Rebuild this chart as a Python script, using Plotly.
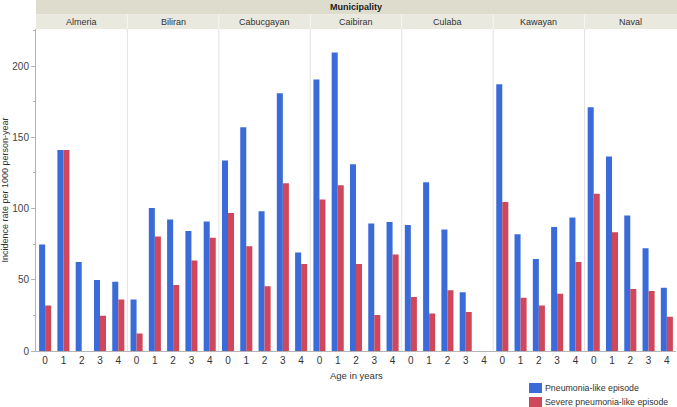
import plotly.graph_objects as go
from plotly.subplots import make_subplots

municipalities = ["Almeria", "Biliran", "Cabucgayan", "Caibiran", "Culaba", "Kawayan", "Naval"]
ages = ["0", "1", "2", "3", "4"]

pneumonia = {
    "Almeria":    [74.8, 141.0, 62.4, 49.8, 48.6],
    "Biliran":    [36.2, 100.3, 92.3, 84.2, 90.9],
    "Cabucgayan": [133.7, 157.1, 98.0, 180.9, 69.2],
    "Caibiran":   [190.5, 209.5, 131.1, 89.5, 90.5],
    "Culaba":     [88.4, 118.5, 85.3, 41.2, None],
    "Kawayan":    [187.2, 82.0, 64.5, 87.0, 93.7],
    "Naval":      [171.1, 136.5, 95.1, 72.2, 44.4],
}
severe = {
    "Almeria":    [32.0, 141.0, None, 24.8, 36.2],
    "Biliran":    [12.2, 80.4, 46.3, 63.6, 79.5],
    "Cabucgayan": [96.8, 73.6, 45.4, 117.8, 61.0],
    "Caibiran":   [106.4, 116.4, 61.0, 25.2, 67.8],
    "Culaba":     [37.9, 26.4, 42.6, 27.3, None],
    "Kawayan":    [104.5, 37.4, 32.0, 40.2, 62.4],
    "Naval":      [110.3, 83.4, 43.5, 42.1, 24.1],
}
series_names = ["Pneumonia-like episode", "Severe pneumonia-like episode"]
colors = ["#3b6bd9", "#d0465a"]

W, H = 677, 407
ML, MR, MT, MB = 36, 1, 29, 56
PW, PH = W - ML - MR, H - MT - MB
FONT = "Liberation Sans, Arial, sans-serif"

def px_x(p):
    return (p - ML) / PW

def px_y(p):
    return (H - MB - p) / PH

n = len(municipalities)
fig = make_subplots(rows=1, cols=n, shared_yaxes=True, horizontal_spacing=0)

for i, m in enumerate(municipalities):
    for s, (vals, name) in enumerate(((pneumonia[m], series_names[0]), (severe[m], series_names[1]))):
        fig.add_trace(
            go.Bar(x=ages, y=vals, name=name, marker_color=colors[s],
                   marker_line_width=0, showlegend=False, legendgroup=name),
            row=1, col=i + 1)
    fig.update_xaxes(type="category", categoryorder="array", categoryarray=ages,
                     showline=True, linecolor="#b4b4b4", linewidth=1, ticks="",
                     showgrid=False, zeroline=False, automargin=False,
                     tickfont=dict(family=FONT, size=10, color="#333"),
                     row=1, col=i + 1)

fig.update_yaxes(range=[0, 226], showgrid=False, zeroline=False, showline=False,
                 ticks="", showticklabels=False, automargin=False)
fig.update_yaxes(showline=True, linecolor="#b4b4b4", linewidth=1,
                 ticks="outside", ticklen=4, tickcolor="#b4b4b4",
                 tickvals=[0, 50, 100, 150, 200], showticklabels=True,
                 tickfont=dict(family=FONT, size=10, color="#444"),
                 minor=dict(dtick=25, ticks="outside", ticklen=2, tickcolor="#b4b4b4"),
                 title=dict(text="Incidence rate per 1000 person-year",
                            font=dict(family=FONT, size=9, color="#333"), standoff=4),
                 row=1, col=1)

shapes = []
annotations = []
strip1_top = px_y(0)
strip1_bot = px_y(14.6)
strip2_bot = px_y(29)
shapes.append(dict(type="rect", xref="paper", yref="paper", x0=0, x1=px_x(W), y0=strip1_bot, y1=strip1_top,
                   fillcolor="#dddccd", line_width=0, layer="below"))
shapes.append(dict(type="rect", xref="paper", yref="paper", x0=0, x1=px_x(W), y0=strip2_bot, y1=strip1_bot,
                   fillcolor="#eae9e0", line_width=0, layer="below"))
annotations.append(dict(text="<b>Municipality</b>", xref="paper", yref="paper", x=0.5,
                        y=(strip1_top + strip1_bot) / 2, showarrow=False, xanchor="center",
                        font=dict(family=FONT, size=9, color="#222"), yanchor="middle"))
for i, m in enumerate(municipalities):
    annotations.append(dict(text=m, xref="paper", yref="paper", x=(i + 0.5) / n,
                            y=(strip1_bot + strip2_bot) / 2, showarrow=False, xanchor="center",
                            font=dict(family=FONT, size=9, color="#333"), yanchor="middle"))
    if i > 0:
        shapes.append(dict(type="line", xref="paper", yref="paper", x0=i / n, x1=i / n, y0=0, y1=1,
                           line=dict(color="#e2e2e2", width=1), layer="below"))
        shapes.append(dict(type="line", xref="paper", yref="paper", x0=i / n, x1=i / n,
                           y0=strip2_bot, y1=strip1_bot, line=dict(color="#f7f7f2", width=1)))

annotations.append(dict(text="Age in years", xref="paper", yref="paper", x=px_x(356), y=px_y(375),
                        xanchor="center", showarrow=False,
                        font=dict(family=FONT, size=9.5, color="#333"), yanchor="middle"))

# legend
for s, name in enumerate(series_names):
    top = 383 + s * 14
    shapes.append(dict(type="rect", xref="paper", yref="paper", x0=px_x(529), x1=px_x(542),
                       y0=px_y(top + 10), y1=px_y(top), fillcolor=colors[s], line_width=0))
    annotations.append(dict(text=name, xref="paper", yref="paper", x=px_x(543), y=px_y(top + 5),
                            xanchor="left", yanchor="middle", showarrow=False,
                            font=dict(family=FONT, size=8.8, color="#333")))

fig.update_layout(
    width=W, height=H,
    margin=dict(l=ML, r=MR, t=MT, b=MB, pad=0, autoexpand=False),
    barmode="group", bargap=0.34, bargroupgap=0,
    plot_bgcolor="white", paper_bgcolor="white",
    showlegend=False,
    shapes=shapes, annotations=annotations,
    font=dict(family=FONT, size=9, color="#333"),
)

fig.write_html("out.html", config={"displayModeBar": False},
               post_script="document.body.style.margin='0';document.body.style.padding='0';")
